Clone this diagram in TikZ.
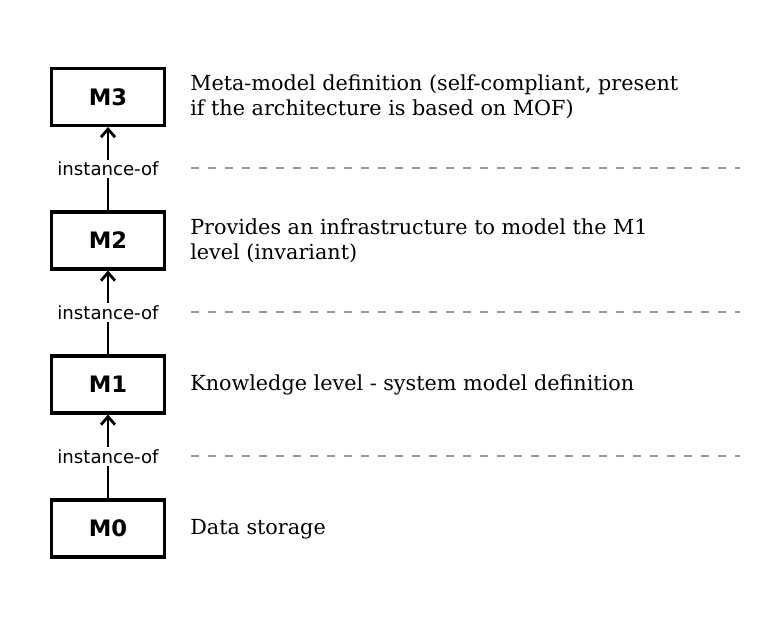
\documentclass[tikz,border=0pt]{standalone}
\usepackage{fontspec}
\setmainfont{DejaVu Serif}
\newfontfamily\boxfont{DejaVu Sans}
\usetikzlibrary{arrows.meta}
\begin{document}
\begin{tikzpicture}[x=0.75pt,y=-0.75pt,
  level/.style={draw=black,line width=2.3pt,minimum width=113*0.75pt,minimum height=57*0.75pt,
    inner sep=0pt,font=\boxfont\fontsize{17}{19}\selectfont\bfseries},
  relabel/.style={fill=white,inner sep=1.5pt,font=\boxfont\fontsize{13.6}{16}\selectfont},
  desc/.style={anchor=west,align=left,inner sep=0pt,font=\fontsize{15.55}{18.8}\selectfont},
  inst/.style={line width=2.1pt,-{Straight Barb[length=6pt,width=10.5pt,line width=2.1pt]}},
  sep/.style={draw=black!40,line width=1.9pt,dash pattern=on 6pt off 6.75pt}]
\useasboundingbox (0,0) rectangle (767,623);
\node[level] (m3) at (108,97) {M3};
\node[level] (m2) at (108,240.5) {M2};
\node[level] (m1) at (108,384.5) {M1};
\node[level] (m0) at (108,528.5) {M0};
% relations between levels
\draw[inst] (m2) -- (m3) node[relabel,midway] (r3) {instance-of};
\draw[inst] (m1) -- (m2) node[relabel,midway] (r2) {instance-of};
\draw[inst] (m0) -- (m1) node[relabel,midway] (r1) {instance-of};
% level separators
\coordinate (s3a) at (191,168); \coordinate (s3b) at (740,168);
\coordinate (s2a) at (191,312); \coordinate (s2b) at (740,312);
\coordinate (s1a) at (191,456); \coordinate (s1b) at (740,456);
\draw[sep] (s3a) -- (s3b);
\draw[sep] (s2a) -- (s2b);
\draw[sep] (s1a) -- (s1b);
% descriptions
\node[desc] (d3) at (190,97) {Meta-model definition (self-compliant, present\\if the architecture is based on MOF)};
\node[desc] (d2) at (190,241) {Provides an infrastructure to model the M1\\level (invariant)};
\node[desc] (d1) at (190,385) {Knowledge level - system model definition};
\node[desc] (d0) at (190,529) {Data storage};
\end{tikzpicture}
\end{document}
